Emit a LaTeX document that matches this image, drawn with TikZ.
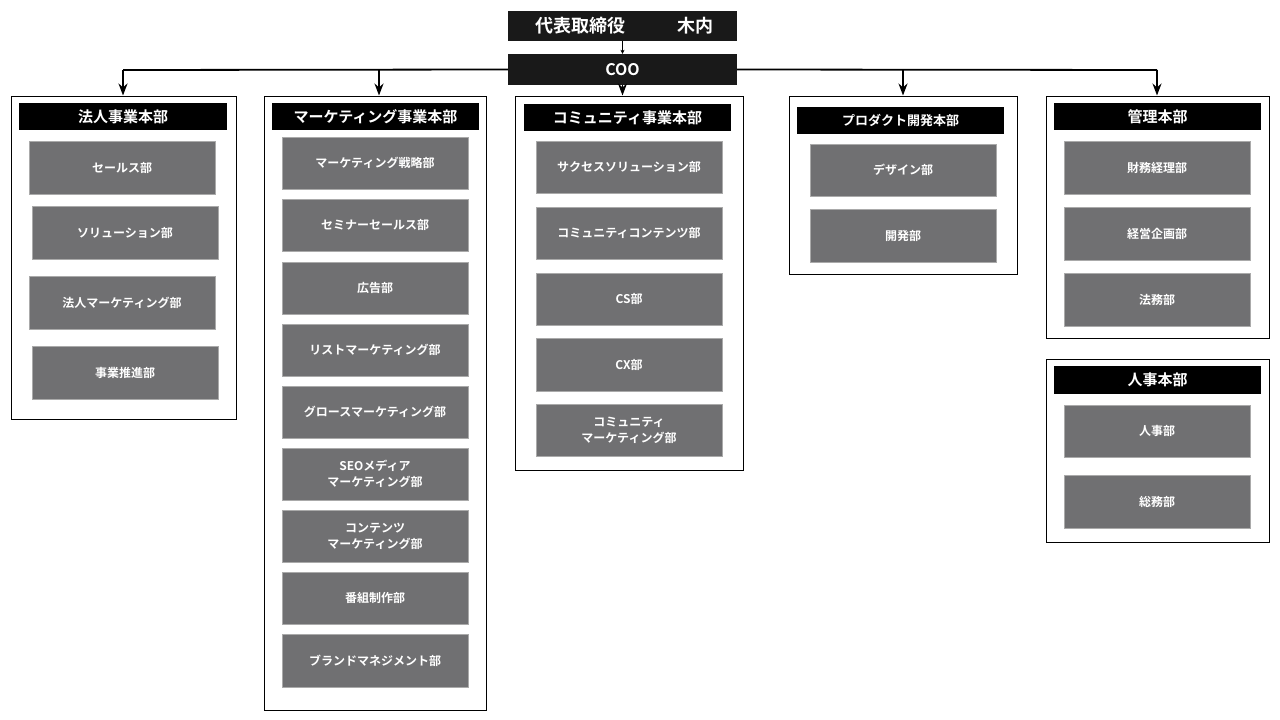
\documentclass[tikz,border=0pt]{standalone}
\usepackage{fontspec}
\newfontfamily\jp{Noto Sans CJK JP}[BoldFont={Noto Sans CJK JP Bold}]
\usetikzlibrary{arrows.meta}
\definecolor{deptgray}{RGB}{112,112,114}
\definecolor{deptedge}{RGB}{170,170,170}
\begin{document}
\begin{tikzpicture}[x=1pt,y=-1pt,
  outerbox/.style={draw=black,line width=1pt,fill=white,inner sep=0pt},
  hdr/.style={fill=black,text=white,inner sep=0pt,font=\jp\bfseries\fontsize{15}{17}\selectfont},
  dept/.style={fill=deptgray,draw=deptedge,line width=0.6pt,text=white,align=center,inner sep=0pt,font=\jp\bfseries\fontsize{12}{16}\selectfont},
  top/.style={fill=black!90,text=white,inner sep=0pt},
  conn/.style={draw=black,line width=1.8pt,-{Stealth[length=12pt,width=9pt]}}
]
\useasboundingbox (0,0) rectangle (1280,720);
\fill[white] (0,0) rectangle (1280,720);
% top
\node[top,minimum width=229,minimum height=30] (ceo) at (622.5,26) {};
\node[text=white,font=\jp\bfseries\fontsize{18}{20}\selectfont] (ceot) at (580,26) {代表取締役};
\node[text=white,font=\jp\bfseries\fontsize{18}{20}\selectfont] (ceon) at (695,26) {木内};
\node[top,minimum width=229,minimum height=31,font=\jp\bfseries\fontsize{16}{18}\selectfont] (coo) at (622.5,69.5) {COO};
\draw[line width=0.5pt,-{Stealth[length=4pt,width=4pt]}] (ceo.south) -- (coo.north);

% outer boxes
\node[outerbox,minimum width=225,minimum height=323] (g1) at (123.5,257.5) {};
\node[outerbox,minimum width=222,minimum height=614] (g2) at (375,403) {};
\node[outerbox,minimum width=228,minimum height=374] (g3) at (629,283) {};
\node[outerbox,minimum width=228,minimum height=178] (g4) at (903,185) {};
\node[outerbox,minimum width=223,minimum height=242] (g5) at (1157.5,217) {};
\node[outerbox,minimum width=223,minimum height=183] (g6) at (1157.5,450.5) {};

% headers
\node[hdr,minimum width=208,minimum height=27] (h1) at (123,116.5) {法人事業本部};
\node[hdr,minimum width=207,minimum height=27] (h2) at (375.5,116.5) {マーケティング事業本部};
\node[hdr,minimum width=207,minimum height=27] (h3) at (627.5,117.5) {コミュニティ事業本部};
\node[hdr,minimum width=207,minimum height=27,font=\jp\bfseries\fontsize{13}{15}\selectfont] (h4) at (900.5,120.5) {プロダクト開発本部};
\node[hdr,minimum width=207,minimum height=27] (h5) at (1157.5,116.5) {管理本部};
\node[hdr,minimum width=207,minimum height=28] (h6) at (1157.5,380) {人事本部};

% connectors
\coordinate (j1) at (123,70);
\coordinate (j2) at (379,70);
\coordinate (j4) at (903,70);
\coordinate (j5) at (1157,70);
\draw[line width=1.8pt] (coo.west) -- (j1);
\draw[line width=1.8pt] (coo.east) -- (j5);
\draw[conn] (j1) -- (j1 |- g1.north);
\draw[conn] (j2) -- (j2 |- g2.north);
\draw[conn] (coo.south) -- (coo.south |- g3.north);
\draw[conn] (j4) -- (j4 |- g4.north);
\draw[conn] (j5) -- (j5 |- g5.north);

% departments: 法人
\node[dept,minimum width=186,minimum height=53] (d11) at (122,167.5) {セールス部};
\node[dept,minimum width=186,minimum height=53] (d12) at (125,232.5) {ソリューション部};
\node[dept,minimum width=186,minimum height=53] (d13) at (122,302.5) {法人マーケティング部};
\node[dept,minimum width=186,minimum height=53] (d14) at (125,372.5) {事業推進部};

% マーケティング
\node[dept,minimum width=186,minimum height=52] (d21) at (375,163) {マーケティング戦略部};
\node[dept,minimum width=186,minimum height=52] (d22) at (375,225) {セミナーセールス部};
\node[dept,minimum width=186,minimum height=52] (d23) at (375,288) {広告部};
\node[dept,minimum width=186,minimum height=52] (d24) at (375,350) {リストマーケティング部};
\node[dept,minimum width=186,minimum height=52] (d25) at (375,412) {グロースマーケティング部};
\node[dept,minimum width=186,minimum height=52] (d26) at (375,474) {SEOメディア\\マーケティング部};
\node[dept,minimum width=186,minimum height=52] (d27) at (375,536) {コンテンツ\\マーケティング部};
\node[dept,minimum width=186,minimum height=52] (d28) at (375,598) {番組制作部};
\node[dept,minimum width=186,minimum height=53] (d29) at (375,660.5) {ブランドマネジメント部};

% コミュニティ
\node[dept,minimum width=186,minimum height=52] (d31) at (629,167) {サクセスソリューション部};
\node[dept,minimum width=186,minimum height=52] (d32) at (629,233) {コミュニティコンテンツ部};
\node[dept,minimum width=186,minimum height=52] (d33) at (629,299) {CS部};
\node[dept,minimum width=186,minimum height=53] (d34) at (629,364.5) {CX部};
\node[dept,minimum width=186,minimum height=52] (d35) at (629,430) {コミュニティ\\マーケティング部};

% プロダクト
\node[dept,minimum width=186,minimum height=52] (d41) at (903,170) {デザイン部};
\node[dept,minimum width=186,minimum height=53] (d42) at (903,235.5) {開発部};

% 管理
\node[dept,minimum width=186,minimum height=53] (d51) at (1157,167.5) {財務経理部};
\node[dept,minimum width=186,minimum height=53] (d52) at (1157,233.5) {経営企画部};
\node[dept,minimum width=186,minimum height=53] (d53) at (1157,299.5) {法務部};

% 人事
\node[dept,minimum width=186,minimum height=52] (d61) at (1157,431) {人事部};
\node[dept,minimum width=186,minimum height=53] (d62) at (1157,501.5) {総務部};
\end{tikzpicture}
\end{document}
